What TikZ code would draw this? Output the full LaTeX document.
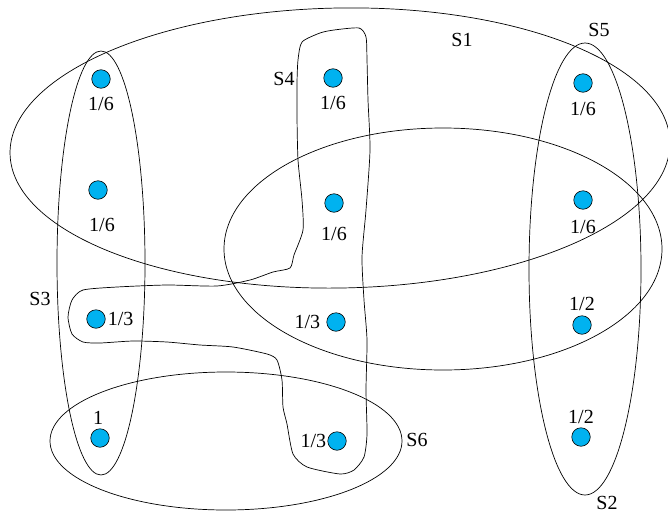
\documentclass[tikz,border=0pt]{standalone}
\usepackage{fontspec}
\setmainfont{Liberation Serif}
\usetikzlibrary{positioning}
\definecolor{dotblue}{RGB}{0,178,240}

\begin{document}
\begin{tikzpicture}[x=1pt, y=-1pt, line width=0.7pt,
    elem/.style={circle, draw, fill=dotblue, line width=0.6pt, inner sep=0pt, minimum size=18.5pt},
    wt/.style={font=\fontsize{20}{24}\selectfont, inner sep=1pt},
    setname/.style={font=\fontsize{20}{24}\selectfont, inner sep=1pt}]
        \useasboundingbox (0,0) rectangle (668,514);

        % sets
        \draw[rotate around={1:(340,148)}] (340,148) ellipse [x radius=330pt, y radius=140pt];
        \draw (443,249) ellipse [x radius=219pt, y radius=121pt];
        \draw (101,263) ellipse [x radius=44pt, y radius=212pt];
        \draw (585,269) ellipse [x radius=56pt, y radius=226pt];
        \draw (226,441) ellipse [x radius=176pt, y radius=69pt];
        \draw plot [smooth cycle, tension=0.4] coordinates {
            (302,42) (320,33) (334,30) (359,28) (366,37) (367,60) (368,100) (370,150)
            (366,210) (362,257) (364,300) (367,340) (366,390) (367,434) (364,457)
            (354,470) (340,474) (307,467) (293,454) (287,424) (283,407) (282,380)
            (277,360) (267,354) (233,347) (200,345) (167,342) (133,341) (100,343)
            (83,342) (72,334) (68,317) (72,300) (83,290) (117,287) (167,285)
            (217,286) (250,280) (273,272) (290,268) (294,255) (303,230) (302,200)
            (298,160) (297,117) (297,83) (298,60)};

        % elements
        \node[elem] (a1) at (101,79) {};
        \node[elem] (a2) at (98,190) {};
        \node[elem] (a3) at (96,319) {};
        \node[elem] (a4) at (100,438) {};
        \node[elem] (b1) at (333,78) {};
        \node[elem] (b2) at (334,203) {};
        \node[elem] (b3) at (336,322) {};
        \node[elem] (b4) at (337,441) {};
        \node[elem] (c1) at (583,83) {};
        \node[elem] (c2) at (583,200) {};
        \node[elem] (c3) at (582,325) {};
        \node[elem] (c4) at (581,437) {};

        % weights
        \node[wt, below=7pt of a1] (wa1) {1/6};
        \node[wt, below=17pt of a2, xshift=4pt] (wa2) {1/6};
        \node[wt, right=1pt of a3] (wa3) {1/3};
        \node[wt, above=3pt of a4, xshift=-2pt] (wa4) {1};
        \node[wt, below=7pt of b1] (wb1) {1/6};
        \node[wt, below=13pt of b2] (wb2) {1/6};
        \node[wt, left=5pt of b3] (wb3) {1/3};
        \node[wt, left=0pt of b4] (wb4) {1/3};
        \node[wt, below=8pt of c1] (wc1) {1/6};
        \node[wt, below=9pt of c2] (wc2) {1/6};
        \node[wt, above=3pt of c3] (wc3) {1/2};
        \node[wt, above=2pt of c4] (wc4) {1/2};

        % set names
        \node[setname] (s1) at (462,40) {S1};
        \node[setname] (s2) at (607,503) {S2};
        \node[setname] (s3) at (40,299) {S3};
        \node[setname] (s4) at (284,79) {S4};
        \node[setname] (s5) at (599,30) {S5};
        \node[setname] (s6) at (417,440) {S6};
    \end{tikzpicture}
\end{document}
